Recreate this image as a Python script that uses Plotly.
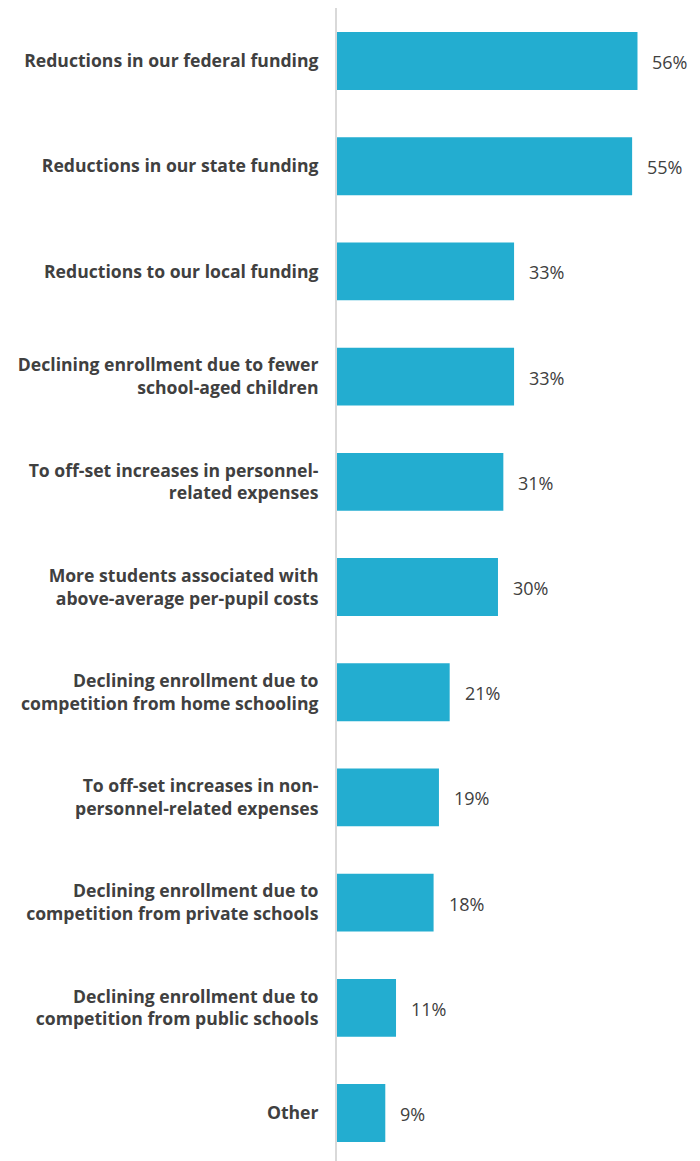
import plotly.graph_objects as go

# Reasons for budget reductions, share of respondents (%)
categories = [
    "Reductions in our federal funding",
    "Reductions in our state funding",
    "Reductions to our local funding",
    "Declining enrollment due to fewer<br>school-aged children",
    "To off-set increases in personnel-<br>related expenses",
    "More students associated with<br>above-average per-pupil costs",
    "Declining enrollment due to<br>competition from home schooling",
    "To off-set increases in non-<br>personnel-related expenses",
    "Declining enrollment due to<br>competition from private schools",
    "Declining enrollment due to<br>competition from public schools",
    "Other",
]
values = [56, 55, 33, 33, 31, 30, 21, 19, 18, 11, 9]

BAR_COLOR = "#23ADD0"
TEXT_COLOR = "#404040"

fig = go.Figure(
    go.Bar(
        x=values,
        y=categories,
        orientation="h",
        marker=dict(color=BAR_COLOR, line=dict(width=0)),
        width=0.55,
        hoverinfo="skip",
    )
)

# value labels to the right of each bar
for cat, v in zip(categories, values):
    fig.add_annotation(
        x=v, y=cat, text=f"{v}%", showarrow=False,
        xanchor="left", yanchor="middle", xshift=13, yshift=-1,
        font=dict(family="Open Sans", size=18, color=TEXT_COLOR),
    )

fig.update_layout(
    width=700, height=1161,
    margin=dict(l=337, r=0, t=8, b=0),
    paper_bgcolor="white", plot_bgcolor="white",
    showlegend=False,
    bargap=0.45,
    xaxis=dict(range=[0, 67.65], visible=False, fixedrange=True),
    yaxis=dict(
        categoryorder="array", categoryarray=categories,
        range=[10.456, -0.504], autorange=False,
        showline=True, linecolor="#D9D9D9", linewidth=2,
        showgrid=False, zeroline=False, ticks="",
        ticklabelstandoff=13,
        tickfont=dict(family="Open Sans", size=17.6, color=TEXT_COLOR, weight="bold"),
    ),
)

fig.write_html("out.html")
